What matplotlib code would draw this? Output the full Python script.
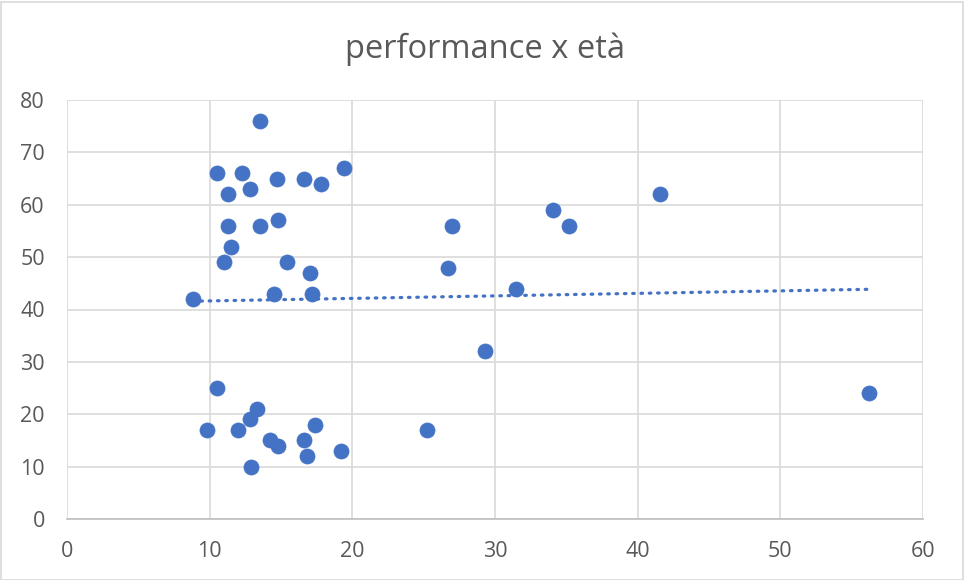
import numpy as np
import matplotlib
matplotlib.use("Agg")
import matplotlib.pyplot as plt
from matplotlib.patches import Rectangle

# età (x) and performance (y)
eta = [13.5, 10.5, 12.3, 14.7, 16.6, 17.8, 19.4, 11.3, 12.8, 11.3,
       13.5, 14.8, 11.5, 11.0, 15.4, 17.0, 8.8, 14.5, 17.2, 10.5,
       9.8, 12.0, 13.3, 12.8, 14.2, 14.8, 16.6, 16.8, 17.4, 19.2,
       12.9, 27.0, 26.7, 31.5, 34.1, 35.2, 41.6, 29.3, 25.2, 56.2]
performance = [76, 66, 66, 65, 65, 64, 67, 62, 63, 56,
               56, 57, 52, 49, 49, 47, 42, 43, 43, 25,
               17, 17, 21, 19, 15, 14, 15, 12, 18, 13,
               10, 56, 48, 44, 59, 56, 62, 32, 17, 24]

title = "performance x età"
x_ticks = [0, 10, 20, 30, 40, 50, 60]
y_ticks = [0, 10, 20, 30, 40, 50, 60, 70, 80]

blue = "#4472C4"
grid_col = "#D9D9D9"
text_col = "#595959"

plt.rcParams["font.family"] = ["Open Sans", "DejaVu Sans"]

fig = plt.figure(figsize=(9.64, 5.8), dpi=100)
ax = fig.add_axes([67 / 964, 1 - 519 / 580, (923 - 67) / 964, (519 - 100) / 580])

ax.scatter(eta, performance, s=118, color=blue, edgecolors=blue,
           linewidths=0.5, zorder=3)

# linear trendline over the data range
slope, intercept = np.polyfit(eta, performance, 1)
xs = np.array([min(eta), max(eta)])
ax.plot(xs, slope * xs + intercept, color=blue, linewidth=2.3,
        linestyle=(0, (0.5, 2.1)), dash_capstyle="round", zorder=2)

ax.set_xlim(x_ticks[0], x_ticks[-1])
ax.set_ylim(y_ticks[0], y_ticks[-1])
ax.set_xticks(x_ticks)
ax.set_yticks(y_ticks)
ax.grid(True, color=grid_col, linewidth=1.2, zorder=0)
ax.set_axisbelow(True)
for side in ["left", "right", "top"]:
    ax.spines[side].set_visible(False)
ax.spines["bottom"].set_color("#BFBFBF")
ax.spines["bottom"].set_linewidth(1.2)
ax.tick_params(length=0, labelsize=15.5, colors=text_col)
ax.tick_params(axis="x", pad=16)
ax.tick_params(axis="y", pad=16)

fig.text(485 / 964, 1 - 49 / 580, title, ha="center", va="center",
         fontsize=23.5, color=text_col)

fig.patches.append(Rectangle((0.5 / 964, 0.5 / 580), 962.5 / 964, 578 / 580,
                             transform=fig.transFigure, fill=False,
                             edgecolor=grid_col, linewidth=1.2))

fig.savefig("out.png", dpi=100)
